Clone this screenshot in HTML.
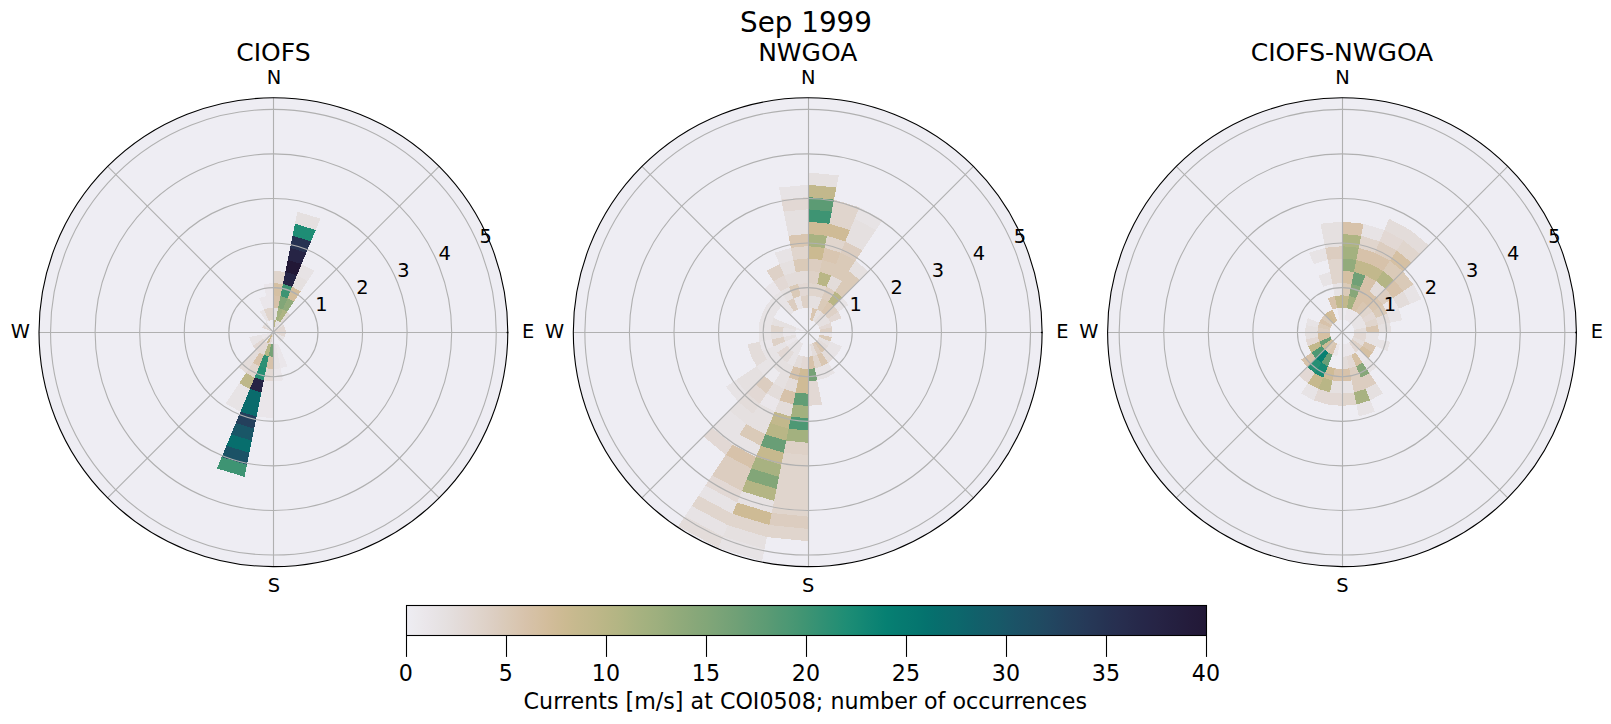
<!DOCTYPE html>
<html><head><meta charset="utf-8"><title>Sep 1999</title>
<style>
html,body{margin:0;padding:0;background:#fff;}
svg{display:block;}
text{font-family:"DejaVu Sans","Liberation Sans",sans-serif;fill:#000;}
.t1{font-size:19.4px;} .tt{font-size:25px;} .ts{font-size:27.8px;} .tc{font-size:22.2px;}
.g{stroke:#b0b0b0;stroke-width:1.1;fill:none;}
</style></head><body>
<svg width="1611" height="724" viewBox="0 0 1611 724">
<defs><linearGradient id="cb" x1="0" x2="1" y1="0" y2="0">
<stop offset="0.0000" stop-color="#eeedf3"/>
<stop offset="0.0125" stop-color="#eceaee"/>
<stop offset="0.0250" stop-color="#eae6ea"/>
<stop offset="0.0375" stop-color="#e7e3e5"/>
<stop offset="0.0500" stop-color="#e5e0e0"/>
<stop offset="0.0625" stop-color="#e3dcda"/>
<stop offset="0.0750" stop-color="#e2d8d4"/>
<stop offset="0.0875" stop-color="#e0d5cd"/>
<stop offset="0.1000" stop-color="#ded1c7"/>
<stop offset="0.1125" stop-color="#dccdc0"/>
<stop offset="0.1250" stop-color="#dacab8"/>
<stop offset="0.1375" stop-color="#d9c6b1"/>
<stop offset="0.1500" stop-color="#d7c2aa"/>
<stop offset="0.1625" stop-color="#d5c0a3"/>
<stop offset="0.1750" stop-color="#d3bd9c"/>
<stop offset="0.1875" stop-color="#cfbb96"/>
<stop offset="0.2000" stop-color="#cbba91"/>
<stop offset="0.2125" stop-color="#c6b98e"/>
<stop offset="0.2250" stop-color="#c2b88c"/>
<stop offset="0.2375" stop-color="#beb789"/>
<stop offset="0.2500" stop-color="#b9b686"/>
<stop offset="0.2625" stop-color="#b4b584"/>
<stop offset="0.2750" stop-color="#aeb482"/>
<stop offset="0.2875" stop-color="#a8b281"/>
<stop offset="0.3000" stop-color="#a3b17f"/>
<stop offset="0.3125" stop-color="#9eaf7e"/>
<stop offset="0.3250" stop-color="#98ad7c"/>
<stop offset="0.3375" stop-color="#92ab7b"/>
<stop offset="0.3500" stop-color="#8da97a"/>
<stop offset="0.3625" stop-color="#87a779"/>
<stop offset="0.3750" stop-color="#82a678"/>
<stop offset="0.3875" stop-color="#7ca478"/>
<stop offset="0.4000" stop-color="#76a277"/>
<stop offset="0.4125" stop-color="#70a076"/>
<stop offset="0.4250" stop-color="#699e76"/>
<stop offset="0.4375" stop-color="#629d75"/>
<stop offset="0.4500" stop-color="#5c9b74"/>
<stop offset="0.4625" stop-color="#549974"/>
<stop offset="0.4750" stop-color="#4d9874"/>
<stop offset="0.4875" stop-color="#469673"/>
<stop offset="0.5000" stop-color="#3e9473"/>
<stop offset="0.5125" stop-color="#369274"/>
<stop offset="0.5250" stop-color="#2e9074"/>
<stop offset="0.5375" stop-color="#268f74"/>
<stop offset="0.5500" stop-color="#1e8d75"/>
<stop offset="0.5625" stop-color="#188a74"/>
<stop offset="0.5750" stop-color="#128674"/>
<stop offset="0.5875" stop-color="#0c8373"/>
<stop offset="0.6000" stop-color="#068072"/>
<stop offset="0.6125" stop-color="#067c71"/>
<stop offset="0.6250" stop-color="#067970"/>
<stop offset="0.6375" stop-color="#05766f"/>
<stop offset="0.6500" stop-color="#05726e"/>
<stop offset="0.6625" stop-color="#076e6d"/>
<stop offset="0.6750" stop-color="#0a6b6c"/>
<stop offset="0.6875" stop-color="#0c686c"/>
<stop offset="0.7000" stop-color="#0e646b"/>
<stop offset="0.7125" stop-color="#11606a"/>
<stop offset="0.7250" stop-color="#145d69"/>
<stop offset="0.7375" stop-color="#165a68"/>
<stop offset="0.7500" stop-color="#195667"/>
<stop offset="0.7625" stop-color="#1b5266"/>
<stop offset="0.7750" stop-color="#1d4f64"/>
<stop offset="0.7875" stop-color="#1f4c62"/>
<stop offset="0.8000" stop-color="#214861"/>
<stop offset="0.8125" stop-color="#22445f"/>
<stop offset="0.8250" stop-color="#24405c"/>
<stop offset="0.8375" stop-color="#253d5a"/>
<stop offset="0.8500" stop-color="#263958"/>
<stop offset="0.8625" stop-color="#263655"/>
<stop offset="0.8750" stop-color="#263252"/>
<stop offset="0.8875" stop-color="#272f50"/>
<stop offset="0.9000" stop-color="#272c4d"/>
<stop offset="0.9125" stop-color="#26294a"/>
<stop offset="0.9250" stop-color="#262648"/>
<stop offset="0.9375" stop-color="#262445"/>
<stop offset="0.9500" stop-color="#252142"/>
<stop offset="0.9625" stop-color="#241f3f"/>
<stop offset="0.9750" stop-color="#241c3c"/>
<stop offset="0.9875" stop-color="#231a39"/>
<stop offset="1.0000" stop-color="#221836"/>
</linearGradient></defs>
<rect width="1611" height="724" fill="#fff"/>
<g>
<circle cx="273.4" cy="332.2" r="234.4" fill="#eeedf3"/>
<g shape-rendering="crispEdges">
<path d="M273.40,332.20 L273.40,319.91 L275.80,320.15 L273.40,332.20Z" fill="#b9b686"/>
<path d="M273.40,319.91 L273.40,307.62 L278.20,308.09 L275.80,320.15Z" fill="#e5e0e0"/>
<path d="M273.40,307.62 L273.40,295.33 L280.59,296.04 L278.20,308.09Z" fill="#d7c2aa"/>
<path d="M273.40,295.33 L273.40,283.04 L282.99,283.98 L280.59,296.04Z" fill="#d5c0a3"/>
<path d="M273.40,283.04 L273.40,270.75 L285.39,271.93 L282.99,283.98Z" fill="#e0d5cd"/>
<path d="M273.40,332.20 L275.80,320.15 L278.10,320.85 L273.40,332.20Z" fill="#e5e0e0"/>
<path d="M275.80,320.15 L278.20,308.09 L282.81,309.49 L278.10,320.85Z" fill="#a3b17f"/>
<path d="M278.20,308.09 L280.59,296.04 L287.51,298.14 L282.81,309.49Z" fill="#82a678"/>
<path d="M280.59,296.04 L282.99,283.98 L292.21,286.78 L287.51,298.14Z" fill="#3e9473"/>
<path d="M282.99,283.98 L285.39,271.93 L296.92,275.43 L292.21,286.78Z" fill="#262445"/>
<path d="M285.39,271.93 L287.79,259.88 L301.62,264.07 L296.92,275.43Z" fill="#221836"/>
<path d="M287.79,259.88 L290.18,247.82 L306.32,252.72 L301.62,264.07Z" fill="#262445"/>
<path d="M290.18,247.82 L292.58,235.77 L311.03,241.36 L306.32,252.72Z" fill="#263252"/>
<path d="M292.58,235.77 L294.98,223.72 L315.73,230.01 L311.03,241.36Z" fill="#1e8d75"/>
<path d="M294.98,223.72 L297.38,211.66 L320.43,218.66 L315.73,230.01Z" fill="#e5e0e0"/>
<path d="M273.40,332.20 L278.10,320.85 L280.23,321.98 L273.40,332.20Z" fill="#e5e0e0"/>
<path d="M278.10,320.85 L282.81,309.49 L287.06,311.76 L280.23,321.98Z" fill="#aeb482"/>
<path d="M282.81,309.49 L287.51,298.14 L293.88,301.54 L287.06,311.76Z" fill="#92ab7b"/>
<path d="M287.51,298.14 L292.21,286.78 L300.71,291.32 L293.88,301.54Z" fill="#d3bd9c"/>
<path d="M292.21,286.78 L296.92,275.43 L307.54,281.11 L300.71,291.32Z" fill="#e5e0e0"/>
<path d="M296.92,275.43 L301.62,264.07 L314.37,270.89 L307.54,281.11Z" fill="#e7e3e5"/>
<path d="M273.40,332.20 L280.23,321.98 L282.09,323.51 L273.40,332.20Z" fill="#eae6ea"/>
<path d="M280.23,321.98 L287.06,311.76 L290.78,314.82 L282.09,323.51Z" fill="#e3dcda"/>
<path d="M273.40,332.20 L282.09,323.51 L283.62,325.37 L273.40,332.20Z" fill="#e5e0e0"/>
<path d="M273.40,332.20 L283.62,325.37 L284.75,327.50 L273.40,332.20Z" fill="#e2d8d4"/>
<path d="M273.40,332.20 L284.75,327.50 L285.45,329.80 L273.40,332.20Z" fill="#e2d8d4"/>
<path d="M273.40,332.20 L285.45,329.80 L285.69,332.20 L273.40,332.20Z" fill="#e2d8d4"/>
<path d="M273.40,332.20 L285.69,332.20 L285.45,334.60 L273.40,332.20Z" fill="#e2d8d4"/>
<path d="M273.40,332.20 L285.45,334.60 L284.75,336.90 L273.40,332.20Z" fill="#e2d8d4"/>
<path d="M273.40,332.20 L284.75,336.90 L283.62,339.03 L273.40,332.20Z" fill="#e7e3e5"/>
<path d="M273.40,332.20 L283.62,339.03 L282.09,340.89 L273.40,332.20Z" fill="#e7e3e5"/>
<path d="M273.40,332.20 L282.09,340.89 L280.23,342.42 L273.40,332.20Z" fill="#e7e3e5"/>
<path d="M278.10,343.55 L282.81,354.91 L278.20,356.31 L275.80,344.25Z" fill="#eae6ea"/>
<path d="M282.81,354.91 L287.51,366.26 L280.59,368.36 L278.20,356.31Z" fill="#eae6ea"/>
<path d="M275.80,344.25 L278.20,356.31 L273.40,356.78 L273.40,344.49Z" fill="#e7e3e5"/>
<path d="M278.20,356.31 L280.59,368.36 L273.40,369.07 L273.40,356.78Z" fill="#e7e3e5"/>
<path d="M280.59,368.36 L282.99,380.42 L273.40,381.36 L273.40,369.07Z" fill="#eae6ea"/>
<path d="M273.40,332.20 L273.40,344.49 L271.00,344.25 L273.40,332.20Z" fill="#eae6ea"/>
<path d="M273.40,344.49 L273.40,356.78 L268.60,356.31 L271.00,344.25Z" fill="#76a277"/>
<path d="M273.40,356.78 L273.40,369.07 L266.21,368.36 L268.60,356.31Z" fill="#d7c2aa"/>
<path d="M273.40,369.07 L273.40,381.36 L263.81,380.42 L266.21,368.36Z" fill="#e2d8d4"/>
<path d="M273.40,381.36 L273.40,393.65 L261.41,392.47 L263.81,380.42Z" fill="#eae6ea"/>
<path d="M273.40,393.65 L273.40,405.94 L259.01,404.52 L261.41,392.47Z" fill="#eae6ea"/>
<path d="M273.40,405.94 L273.40,418.23 L256.62,416.58 L259.01,404.52Z" fill="#eae6ea"/>
<path d="M273.40,332.20 L271.00,344.25 L268.70,343.55 L273.40,332.20Z" fill="#e2d8d4"/>
<path d="M271.00,344.25 L268.60,356.31 L263.99,354.91 L268.70,343.55Z" fill="#b4b584"/>
<path d="M268.60,356.31 L266.21,368.36 L259.29,366.26 L263.99,354.91Z" fill="#2e9074"/>
<path d="M266.21,368.36 L263.81,380.42 L254.59,377.62 L259.29,366.26Z" fill="#268f74"/>
<path d="M263.81,380.42 L261.41,392.47 L249.88,388.97 L254.59,377.62Z" fill="#262445"/>
<path d="M261.41,392.47 L259.01,404.52 L245.18,400.33 L249.88,388.97Z" fill="#0a6b6c"/>
<path d="M259.01,404.52 L256.62,416.58 L240.48,411.68 L245.18,400.33Z" fill="#0a6b6c"/>
<path d="M256.62,416.58 L254.22,428.63 L235.77,423.04 L240.48,411.68Z" fill="#24405c"/>
<path d="M254.22,428.63 L251.82,440.68 L231.07,434.39 L235.77,423.04Z" fill="#195667"/>
<path d="M251.82,440.68 L249.42,452.74 L226.37,445.74 L231.07,434.39Z" fill="#076e6d"/>
<path d="M249.42,452.74 L247.03,464.79 L221.67,457.10 L226.37,445.74Z" fill="#1b5266"/>
<path d="M247.03,464.79 L244.63,476.85 L216.96,468.45 L221.67,457.10Z" fill="#3e9473"/>
<path d="M273.40,332.20 L268.70,343.55 L266.57,342.42 L273.40,332.20Z" fill="#cbba91"/>
<path d="M268.70,343.55 L263.99,354.91 L259.74,352.64 L266.57,342.42Z" fill="#e2d8d4"/>
<path d="M263.99,354.91 L259.29,366.26 L252.92,362.86 L259.74,352.64Z" fill="#d7c2aa"/>
<path d="M259.29,366.26 L254.59,377.62 L246.09,373.08 L252.92,362.86Z" fill="#e0d5cd"/>
<path d="M254.59,377.62 L249.88,388.97 L239.26,383.29 L246.09,373.08Z" fill="#beb789"/>
<path d="M249.88,388.97 L245.18,400.33 L232.43,393.51 L239.26,383.29Z" fill="#e7e3e5"/>
<path d="M245.18,400.33 L240.48,411.68 L225.60,403.73 L232.43,393.51Z" fill="#e7e3e5"/>
<path d="M273.40,332.20 L266.57,342.42 L264.71,340.89 L273.40,332.20Z" fill="#eae6ea"/>
<path d="M266.57,342.42 L259.74,352.64 L256.02,349.58 L264.71,340.89Z" fill="#e2d8d4"/>
<path d="M259.74,352.64 L252.92,362.86 L247.33,358.27 L256.02,349.58Z" fill="#e3dcda"/>
<path d="M252.92,362.86 L246.09,373.08 L238.64,366.96 L247.33,358.27Z" fill="#e3dcda"/>
<path d="M273.40,332.20 L264.71,340.89 L263.18,339.03 L273.40,332.20Z" fill="#e5e0e0"/>
<path d="M264.71,340.89 L256.02,349.58 L252.96,345.86 L263.18,339.03Z" fill="#e2d8d4"/>
<path d="M273.40,332.20 L263.18,339.03 L262.05,336.90 L273.40,332.20Z" fill="#eae6ea"/>
<path d="M263.18,339.03 L252.96,345.86 L250.69,341.61 L262.05,336.90Z" fill="#e7e3e5"/>
<path d="M273.40,332.20 L262.05,336.90 L261.35,334.60 L273.40,332.20Z" fill="#eae6ea"/>
<path d="M262.05,336.90 L250.69,341.61 L249.29,337.00 L261.35,334.60Z" fill="#e7e3e5"/>
<path d="M273.40,332.20 L262.05,327.50 L263.18,325.37 L273.40,332.20Z" fill="#e2d8d4"/>
<path d="M273.40,332.20 L263.18,325.37 L264.71,323.51 L273.40,332.20Z" fill="#e5e0e0"/>
<path d="M273.40,332.20 L264.71,323.51 L266.57,321.98 L273.40,332.20Z" fill="#e5e0e0"/>
<path d="M266.57,321.98 L259.74,311.76 L263.99,309.49 L268.70,320.85Z" fill="#e7e3e5"/>
<path d="M268.70,320.85 L263.99,309.49 L268.60,308.09 L271.00,320.15Z" fill="#e0d5cd"/>
<path d="M263.99,309.49 L259.29,298.14 L266.21,296.04 L268.60,308.09Z" fill="#eae6ea"/>
<path d="M271.00,320.15 L268.60,308.09 L273.40,307.62 L273.40,319.91Z" fill="#e0d5cd"/>
<path d="M268.60,308.09 L266.21,296.04 L273.40,295.33 L273.40,307.62Z" fill="#eae6ea"/>
<path d="M266.21,296.04 L263.81,283.98 L273.40,283.04 L273.40,295.33Z" fill="#eae6ea"/>
</g>
<line class="g" x1="273.5" y1="97.80" x2="273.5" y2="566.60"/>
<line class="g" x1="39.00" y1="332.5" x2="507.80" y2="332.5"/>
<line class="g" x1="273.4" y1="332.2" x2="439.15" y2="166.45"/>
<line class="g" x1="273.4" y1="332.2" x2="439.15" y2="497.95"/>
<line class="g" x1="273.4" y1="332.2" x2="107.65" y2="497.95"/>
<line class="g" x1="273.4" y1="332.2" x2="107.65" y2="166.45"/>
<circle class="g" cx="273.4" cy="332.2" r="44.57"/>
<circle class="g" cx="273.4" cy="332.2" r="89.14"/>
<circle class="g" cx="273.4" cy="332.2" r="133.71"/>
<circle class="g" cx="273.4" cy="332.2" r="178.28"/>
<circle class="g" cx="273.4" cy="332.2" r="222.85"/>
<circle cx="273.4" cy="332.2" r="234.4" fill="none" stroke="#000" stroke-width="1.1"/>
<line x1="506.6" y1="332.5" x2="508.4" y2="332.5" stroke="#000" stroke-width="1.3"/>
<text class="t1" x="321.3" y="311" text-anchor="middle">1</text>
<text class="t1" x="362.4" y="294" text-anchor="middle">2</text>
<text class="t1" x="403.5" y="277" text-anchor="middle">3</text>
<text class="t1" x="444.6" y="260" text-anchor="middle">4</text>
<text class="t1" x="485.7" y="243" text-anchor="middle">5</text>
<text class="t1" x="273.9" y="84.2" text-anchor="middle">N</text>
<text class="t1" x="273.9" y="592" text-anchor="middle">S</text>
<text class="t1" x="528.2" y="338.1" text-anchor="middle">E</text>
<text class="t1" x="20.3" y="338.1" text-anchor="middle">W</text>
<text class="tt" x="273.4" y="61" text-anchor="middle">CIOFS</text>
</g>
<g>
<circle cx="807.7" cy="332.2" r="234.4" fill="#eeedf3"/>
<g shape-rendering="crispEdges">
<path d="M807.70,319.91 L807.70,307.62 L812.50,308.09 L810.10,320.15Z" fill="#eae6ea"/>
<path d="M807.70,307.62 L807.70,295.33 L814.89,296.04 L812.50,308.09Z" fill="#e5e0e0"/>
<path d="M807.70,295.33 L807.70,283.04 L817.29,283.98 L814.89,296.04Z" fill="#e0d5cd"/>
<path d="M807.70,283.04 L807.70,270.75 L819.69,271.93 L817.29,283.98Z" fill="#ded1c7"/>
<path d="M807.70,270.75 L807.70,258.46 L822.09,259.88 L819.69,271.93Z" fill="#dccdc0"/>
<path d="M807.70,258.46 L807.70,246.17 L824.48,247.82 L822.09,259.88Z" fill="#cbba91"/>
<path d="M807.70,246.17 L807.70,233.88 L826.88,235.77 L824.48,247.82Z" fill="#a8b281"/>
<path d="M807.70,233.88 L807.70,221.59 L829.28,223.72 L826.88,235.77Z" fill="#cfbb96"/>
<path d="M807.70,221.59 L807.70,209.30 L831.68,211.66 L829.28,223.72Z" fill="#3e9473"/>
<path d="M807.70,209.30 L807.70,197.01 L834.07,199.61 L831.68,211.66Z" fill="#5c9b74"/>
<path d="M807.70,197.01 L807.70,184.72 L836.47,187.55 L834.07,199.61Z" fill="#c2b88c"/>
<path d="M807.70,184.72 L807.70,172.43 L838.87,175.50 L836.47,187.55Z" fill="#e5e0e0"/>
<path d="M810.10,320.15 L812.50,308.09 L817.11,309.49 L812.40,320.85Z" fill="#d9c6b1"/>
<path d="M812.50,308.09 L814.89,296.04 L821.81,298.14 L817.11,309.49Z" fill="#e5e0e0"/>
<path d="M814.89,296.04 L817.29,283.98 L826.51,286.78 L821.81,298.14Z" fill="#e0d5cd"/>
<path d="M817.29,283.98 L819.69,271.93 L831.22,275.43 L826.51,286.78Z" fill="#b9b686"/>
<path d="M819.69,271.93 L822.09,259.88 L835.92,264.07 L831.22,275.43Z" fill="#dacab8"/>
<path d="M822.09,259.88 L824.48,247.82 L840.62,252.72 L835.92,264.07Z" fill="#d9c6b1"/>
<path d="M824.48,247.82 L826.88,235.77 L845.33,241.36 L840.62,252.72Z" fill="#e0d5cd"/>
<path d="M826.88,235.77 L829.28,223.72 L850.03,230.01 L845.33,241.36Z" fill="#cfbb96"/>
<path d="M829.28,223.72 L831.68,211.66 L854.73,218.66 L850.03,230.01Z" fill="#e0d5cd"/>
<path d="M831.68,211.66 L834.07,199.61 L859.43,207.30 L854.73,218.66Z" fill="#e0d5cd"/>
<path d="M812.40,320.85 L817.11,309.49 L821.36,311.76 L814.53,321.98Z" fill="#e5e0e0"/>
<path d="M817.11,309.49 L821.81,298.14 L828.18,301.54 L821.36,311.76Z" fill="#dacab8"/>
<path d="M821.81,298.14 L826.51,286.78 L835.01,291.32 L828.18,301.54Z" fill="#dccdc0"/>
<path d="M826.51,286.78 L831.22,275.43 L841.84,281.11 L835.01,291.32Z" fill="#e3dcda"/>
<path d="M831.22,275.43 L835.92,264.07 L848.67,270.89 L841.84,281.11Z" fill="#dacab8"/>
<path d="M835.92,264.07 L840.62,252.72 L855.50,260.67 L848.67,270.89Z" fill="#dacab8"/>
<path d="M840.62,252.72 L845.33,241.36 L862.32,250.45 L855.50,260.67Z" fill="#dccdc0"/>
<path d="M845.33,241.36 L850.03,230.01 L869.15,240.23 L862.32,250.45Z" fill="#e5e0e0"/>
<path d="M850.03,230.01 L854.73,218.66 L875.98,230.01 L869.15,240.23Z" fill="#e5e0e0"/>
<path d="M854.73,218.66 L859.43,207.30 L882.81,219.79 L875.98,230.01Z" fill="#e7e3e5"/>
<path d="M814.53,321.98 L821.36,311.76 L825.08,314.82 L816.39,323.51Z" fill="#e3dcda"/>
<path d="M821.36,311.76 L828.18,301.54 L833.77,306.13 L825.08,314.82Z" fill="#d9c6b1"/>
<path d="M828.18,301.54 L835.01,291.32 L842.46,297.44 L833.77,306.13Z" fill="#b9b686"/>
<path d="M835.01,291.32 L841.84,281.11 L851.15,288.75 L842.46,297.44Z" fill="#dacab8"/>
<path d="M841.84,281.11 L848.67,270.89 L859.84,280.06 L851.15,288.75Z" fill="#dacab8"/>
<path d="M848.67,270.89 L855.50,260.67 L868.53,271.37 L859.84,280.06Z" fill="#e5e0e0"/>
<path d="M816.39,323.51 L825.08,314.82 L828.14,318.54 L817.92,325.37Z" fill="#e5e0e0"/>
<path d="M825.08,314.82 L833.77,306.13 L838.36,311.72 L828.14,318.54Z" fill="#ded1c7"/>
<path d="M833.77,306.13 L842.46,297.44 L848.58,304.89 L838.36,311.72Z" fill="#e7e3e5"/>
<path d="M817.92,325.37 L828.14,318.54 L830.41,322.79 L819.05,327.50Z" fill="#e5e0e0"/>
<path d="M828.14,318.54 L838.36,311.72 L841.76,318.09 L830.41,322.79Z" fill="#e2d8d4"/>
<path d="M819.05,327.50 L830.41,322.79 L831.81,327.40 L819.75,329.80Z" fill="#e2d8d4"/>
<path d="M819.75,329.80 L831.81,327.40 L832.28,332.20 L819.99,332.20Z" fill="#ded1c7"/>
<path d="M819.99,332.20 L832.28,332.20 L831.81,337.00 L819.75,334.60Z" fill="#eae6ea"/>
<path d="M819.75,334.60 L831.81,337.00 L830.41,341.61 L819.05,336.90Z" fill="#dacab8"/>
<path d="M819.05,336.90 L830.41,341.61 L828.14,345.86 L817.92,339.03Z" fill="#e5e0e0"/>
<path d="M830.41,341.61 L841.76,346.31 L838.36,352.68 L828.14,345.86Z" fill="#e7e3e5"/>
<path d="M817.92,339.03 L828.14,345.86 L825.08,349.58 L816.39,340.89Z" fill="#e3dcda"/>
<path d="M828.14,345.86 L838.36,352.68 L833.77,358.27 L825.08,349.58Z" fill="#e7e3e5"/>
<path d="M816.39,340.89 L825.08,349.58 L821.36,352.64 L814.53,342.42Z" fill="#d9c6b1"/>
<path d="M825.08,349.58 L833.77,358.27 L828.18,362.86 L821.36,352.64Z" fill="#e3dcda"/>
<path d="M814.53,342.42 L821.36,352.64 L817.11,354.91 L812.40,343.55Z" fill="#dccdc0"/>
<path d="M821.36,352.64 L828.18,362.86 L821.81,366.26 L817.11,354.91Z" fill="#d9c6b1"/>
<path d="M828.18,362.86 L835.01,373.08 L826.51,377.62 L821.81,366.26Z" fill="#e7e3e5"/>
<path d="M812.40,343.55 L817.11,354.91 L812.50,356.31 L810.10,344.25Z" fill="#e3dcda"/>
<path d="M817.11,354.91 L821.81,366.26 L814.89,368.36 L812.50,356.31Z" fill="#e0d5cd"/>
<path d="M821.81,366.26 L826.51,377.62 L817.29,380.42 L814.89,368.36Z" fill="#e7e3e5"/>
<path d="M810.10,344.25 L812.50,356.31 L807.70,356.78 L807.70,344.49Z" fill="#e7e3e5"/>
<path d="M812.50,356.31 L814.89,368.36 L807.70,369.07 L807.70,356.78Z" fill="#d7c2aa"/>
<path d="M814.89,368.36 L817.29,380.42 L807.70,381.36 L807.70,369.07Z" fill="#76a277"/>
<path d="M817.29,380.42 L819.69,392.47 L807.70,393.65 L807.70,381.36Z" fill="#e2d8d4"/>
<path d="M819.69,392.47 L822.09,404.52 L807.70,405.94 L807.70,393.65Z" fill="#e2d8d4"/>
<path d="M807.70,356.78 L807.70,369.07 L800.51,368.36 L802.90,356.31Z" fill="#e2d8d4"/>
<path d="M807.70,369.07 L807.70,381.36 L798.11,380.42 L800.51,368.36Z" fill="#cfbb96"/>
<path d="M807.70,381.36 L807.70,393.65 L795.71,392.47 L798.11,380.42Z" fill="#cfbb96"/>
<path d="M807.70,393.65 L807.70,405.94 L793.31,404.52 L795.71,392.47Z" fill="#629d75"/>
<path d="M807.70,405.94 L807.70,418.23 L790.92,416.58 L793.31,404.52Z" fill="#a3b17f"/>
<path d="M807.70,418.23 L807.70,430.52 L788.52,428.63 L790.92,416.58Z" fill="#4d9874"/>
<path d="M807.70,430.52 L807.70,442.81 L786.12,440.68 L788.52,428.63Z" fill="#a3b17f"/>
<path d="M807.70,442.81 L807.70,455.10 L783.72,452.74 L786.12,440.68Z" fill="#ded1c7"/>
<path d="M807.70,455.10 L807.70,467.39 L781.33,464.79 L783.72,452.74Z" fill="#e0d5cd"/>
<path d="M807.70,467.39 L807.70,479.68 L778.93,476.85 L781.33,464.79Z" fill="#e0d5cd"/>
<path d="M807.70,479.68 L807.70,491.97 L776.53,488.90 L778.93,476.85Z" fill="#e0d5cd"/>
<path d="M807.70,491.97 L807.70,504.26 L774.13,500.95 L776.53,488.90Z" fill="#e0d5cd"/>
<path d="M807.70,504.26 L807.70,516.55 L771.74,513.01 L774.13,500.95Z" fill="#e0d5cd"/>
<path d="M807.70,516.55 L807.70,528.84 L769.34,525.06 L771.74,513.01Z" fill="#dccdc0"/>
<path d="M807.70,528.84 L807.70,541.13 L766.94,537.12 L769.34,525.06Z" fill="#e0d5cd"/>
<path d="M802.90,356.31 L800.51,368.36 L793.59,366.26 L798.29,354.91Z" fill="#e3dcda"/>
<path d="M800.51,368.36 L798.11,380.42 L788.89,377.62 L793.59,366.26Z" fill="#d7c2aa"/>
<path d="M798.11,380.42 L795.71,392.47 L784.18,388.97 L788.89,377.62Z" fill="#e3dcda"/>
<path d="M795.71,392.47 L793.31,404.52 L779.48,400.33 L784.18,388.97Z" fill="#d7c2aa"/>
<path d="M793.31,404.52 L790.92,416.58 L774.78,411.68 L779.48,400.33Z" fill="#e3dcda"/>
<path d="M790.92,416.58 L788.52,428.63 L770.07,423.04 L774.78,411.68Z" fill="#c2b88c"/>
<path d="M788.52,428.63 L786.12,440.68 L765.37,434.39 L770.07,423.04Z" fill="#b9b686"/>
<path d="M786.12,440.68 L783.72,452.74 L760.67,445.74 L765.37,434.39Z" fill="#699e76"/>
<path d="M783.72,452.74 L781.33,464.79 L755.97,457.10 L760.67,445.74Z" fill="#c6b98e"/>
<path d="M781.33,464.79 L778.93,476.85 L751.26,468.45 L755.97,457.10Z" fill="#a8b281"/>
<path d="M778.93,476.85 L776.53,488.90 L746.56,479.81 L751.26,468.45Z" fill="#82a678"/>
<path d="M776.53,488.90 L774.13,500.95 L741.86,491.16 L746.56,479.81Z" fill="#b4b584"/>
<path d="M774.13,500.95 L771.74,513.01 L737.15,502.52 L741.86,491.16Z" fill="#e6e1e2"/>
<path d="M771.74,513.01 L769.34,525.06 L732.45,513.87 L737.15,502.52Z" fill="#cebb95"/>
<path d="M769.34,525.06 L766.94,537.12 L727.75,525.23 L732.45,513.87Z" fill="#e0d5cd"/>
<path d="M766.94,537.12 L764.54,549.17 L723.04,536.58 L727.75,525.23Z" fill="#e5e0e0"/>
<path d="M764.54,549.17 L762.14,561.22 L718.34,547.94 L723.04,536.58Z" fill="#e7e3e5"/>
<path d="M803.00,343.55 L798.29,354.91 L794.04,352.64 L800.87,342.42Z" fill="#e7e3e5"/>
<path d="M798.29,354.91 L793.59,366.26 L787.22,362.86 L794.04,352.64Z" fill="#e7e3e5"/>
<path d="M793.59,366.26 L788.89,377.62 L780.39,373.08 L787.22,362.86Z" fill="#e5e0e0"/>
<path d="M788.89,377.62 L784.18,388.97 L773.56,383.29 L780.39,373.08Z" fill="#e5e0e0"/>
<path d="M784.18,388.97 L779.48,400.33 L766.73,393.51 L773.56,383.29Z" fill="#e3dcda"/>
<path d="M779.48,400.33 L774.78,411.68 L759.90,403.73 L766.73,393.51Z" fill="#eae6ea"/>
<path d="M774.78,411.68 L770.07,423.04 L753.08,413.95 L759.90,403.73Z" fill="#e5e0e0"/>
<path d="M770.07,423.04 L765.37,434.39 L746.25,424.17 L753.08,413.95Z" fill="#e5e0e0"/>
<path d="M765.37,434.39 L760.67,445.74 L739.42,434.39 L746.25,424.17Z" fill="#dacab8"/>
<path d="M760.67,445.74 L755.97,457.10 L732.59,444.61 L739.42,434.39Z" fill="#e7e3e5"/>
<path d="M755.97,457.10 L751.26,468.45 L725.76,454.83 L732.59,444.61Z" fill="#d7c2aa"/>
<path d="M751.26,468.45 L746.56,479.81 L718.94,465.04 L725.76,454.83Z" fill="#dccdc0"/>
<path d="M746.56,479.81 L741.86,491.16 L712.11,475.26 L718.94,465.04Z" fill="#dccdc0"/>
<path d="M741.86,491.16 L737.15,502.52 L705.28,485.48 L712.11,475.26Z" fill="#e2d8d4"/>
<path d="M737.15,502.52 L732.45,513.87 L698.45,495.70 L705.28,485.48Z" fill="#e7e3e5"/>
<path d="M732.45,513.87 L727.75,525.23 L691.62,505.92 L698.45,495.70Z" fill="#e0d5cd"/>
<path d="M727.75,525.23 L723.04,536.58 L684.80,516.14 L691.62,505.92Z" fill="#e7e3e5"/>
<path d="M723.04,536.58 L718.34,547.94 L677.97,526.36 L684.80,516.14Z" fill="#e3dcda"/>
<path d="M800.87,342.42 L794.04,352.64 L790.32,349.58 L799.01,340.89Z" fill="#e7e3e5"/>
<path d="M794.04,352.64 L787.22,362.86 L781.63,358.27 L790.32,349.58Z" fill="#e3dcda"/>
<path d="M787.22,362.86 L780.39,373.08 L772.94,366.96 L781.63,358.27Z" fill="#e5e0e0"/>
<path d="M780.39,373.08 L773.56,383.29 L764.25,375.65 L772.94,366.96Z" fill="#eceaee"/>
<path d="M773.56,383.29 L766.73,393.51 L755.56,384.34 L764.25,375.65Z" fill="#dccdc0"/>
<path d="M766.73,393.51 L759.90,403.73 L746.87,393.03 L755.56,384.34Z" fill="#e2d8d4"/>
<path d="M759.90,403.73 L753.08,413.95 L738.18,401.72 L746.87,393.03Z" fill="#e3dcda"/>
<path d="M753.08,413.95 L746.25,424.17 L729.49,410.41 L738.18,401.72Z" fill="#e5e0e0"/>
<path d="M746.25,424.17 L739.42,434.39 L720.80,419.10 L729.49,410.41Z" fill="#e7e3e5"/>
<path d="M739.42,434.39 L732.59,444.61 L712.11,427.79 L720.80,419.10Z" fill="#e7e3e5"/>
<path d="M732.59,444.61 L725.76,454.83 L703.42,436.48 L712.11,427.79Z" fill="#e2d8d4"/>
<path d="M799.01,340.89 L790.32,349.58 L787.26,345.86 L797.48,339.03Z" fill="#e7e3e5"/>
<path d="M790.32,349.58 L781.63,358.27 L777.04,352.68 L787.26,345.86Z" fill="#e2d8d4"/>
<path d="M781.63,358.27 L772.94,366.96 L766.82,359.51 L777.04,352.68Z" fill="#e7e3e5"/>
<path d="M772.94,366.96 L764.25,375.65 L756.61,366.34 L766.82,359.51Z" fill="#e7e3e5"/>
<path d="M764.25,375.65 L755.56,384.34 L746.39,373.17 L756.61,366.34Z" fill="#e5e0e0"/>
<path d="M755.56,384.34 L746.87,393.03 L736.17,380.00 L746.39,373.17Z" fill="#e5e0e0"/>
<path d="M746.87,393.03 L738.18,401.72 L725.95,386.82 L736.17,380.00Z" fill="#e7e3e5"/>
<path d="M797.48,339.03 L787.26,345.86 L784.99,341.61 L796.35,336.90Z" fill="#eae6ea"/>
<path d="M787.26,345.86 L777.04,352.68 L773.64,346.31 L784.99,341.61Z" fill="#e7e3e5"/>
<path d="M777.04,352.68 L766.82,359.51 L762.28,351.01 L773.64,346.31Z" fill="#e7e3e5"/>
<path d="M766.82,359.51 L756.61,366.34 L750.93,355.72 L762.28,351.01Z" fill="#e3dcda"/>
<path d="M796.35,336.90 L784.99,341.61 L783.59,337.00 L795.65,334.60Z" fill="#e5e0e0"/>
<path d="M784.99,341.61 L773.64,346.31 L771.54,339.39 L783.59,337.00Z" fill="#ded1c7"/>
<path d="M773.64,346.31 L762.28,351.01 L759.48,341.79 L771.54,339.39Z" fill="#eae6ea"/>
<path d="M762.28,351.01 L750.93,355.72 L747.43,344.19 L759.48,341.79Z" fill="#e3dcda"/>
<path d="M795.65,334.60 L783.59,337.00 L783.12,332.20 L795.41,332.20Z" fill="#eae6ea"/>
<path d="M783.59,337.00 L771.54,339.39 L770.83,332.20 L783.12,332.20Z" fill="#e5e0e0"/>
<path d="M771.54,339.39 L759.48,341.79 L758.54,332.20 L770.83,332.20Z" fill="#e7e3e5"/>
<path d="M795.41,332.20 L783.12,332.20 L783.59,327.40 L795.65,329.80Z" fill="#e7e3e5"/>
<path d="M783.12,332.20 L770.83,332.20 L771.54,325.01 L783.59,327.40Z" fill="#e0d5cd"/>
<path d="M770.83,332.20 L758.54,332.20 L759.48,322.61 L771.54,325.01Z" fill="#e7e3e5"/>
<path d="M807.70,332.20 L795.65,329.80 L796.35,327.50 L807.70,332.20Z" fill="#eae6ea"/>
<path d="M795.65,329.80 L783.59,327.40 L784.99,322.79 L796.35,327.50Z" fill="#e5e0e0"/>
<path d="M783.59,327.40 L771.54,325.01 L773.64,318.09 L784.99,322.79Z" fill="#e5e0e0"/>
<path d="M771.54,325.01 L759.48,322.61 L762.28,313.39 L773.64,318.09Z" fill="#e7e3e5"/>
<path d="M773.64,318.09 L762.28,313.39 L766.82,304.89 L777.04,311.72Z" fill="#e7e3e5"/>
<path d="M777.04,311.72 L766.82,304.89 L772.94,297.44 L781.63,306.13Z" fill="#e7e3e5"/>
<path d="M790.32,314.82 L781.63,306.13 L787.22,301.54 L794.04,311.76Z" fill="#e7e3e5"/>
<path d="M781.63,306.13 L772.94,297.44 L780.39,291.32 L787.22,301.54Z" fill="#e7e3e5"/>
<path d="M772.94,297.44 L764.25,288.75 L773.56,281.11 L780.39,291.32Z" fill="#eae6ea"/>
<path d="M794.04,311.76 L787.22,301.54 L793.59,298.14 L798.29,309.49Z" fill="#dccdc0"/>
<path d="M787.22,301.54 L780.39,291.32 L788.89,286.78 L793.59,298.14Z" fill="#e5e0e0"/>
<path d="M780.39,291.32 L773.56,281.11 L784.18,275.43 L788.89,286.78Z" fill="#e2d8d4"/>
<path d="M773.56,281.11 L766.73,270.89 L779.48,264.07 L784.18,275.43Z" fill="#ded1c7"/>
<path d="M798.29,309.49 L793.59,298.14 L800.51,296.04 L802.90,308.09Z" fill="#e7e3e5"/>
<path d="M793.59,298.14 L788.89,286.78 L798.11,283.98 L800.51,296.04Z" fill="#dacab8"/>
<path d="M788.89,286.78 L784.18,275.43 L795.71,271.93 L798.11,283.98Z" fill="#e3dcda"/>
<path d="M784.18,275.43 L779.48,264.07 L793.31,259.88 L795.71,271.93Z" fill="#e5e0e0"/>
<path d="M779.48,264.07 L774.78,252.72 L790.92,247.82 L793.31,259.88Z" fill="#e7e3e5"/>
<path d="M802.90,308.09 L800.51,296.04 L807.70,295.33 L807.70,307.62Z" fill="#ded1c7"/>
<path d="M800.51,296.04 L798.11,283.98 L807.70,283.04 L807.70,295.33Z" fill="#e2d8d4"/>
<path d="M798.11,283.98 L795.71,271.93 L807.70,270.75 L807.70,283.04Z" fill="#e3dcda"/>
<path d="M795.71,271.93 L793.31,259.88 L807.70,258.46 L807.70,270.75Z" fill="#dacab8"/>
<path d="M793.31,259.88 L790.92,247.82 L807.70,246.17 L807.70,258.46Z" fill="#e0d5cd"/>
<path d="M790.92,247.82 L788.52,235.77 L807.70,233.88 L807.70,246.17Z" fill="#d9c6b1"/>
<path d="M788.52,235.77 L786.12,223.72 L807.70,221.59 L807.70,233.88Z" fill="#e5e0e0"/>
<path d="M786.12,223.72 L783.72,211.66 L807.70,209.30 L807.70,221.59Z" fill="#e5e0e0"/>
<path d="M783.72,211.66 L781.33,199.61 L807.70,197.01 L807.70,209.30Z" fill="#e2d8d4"/>
<path d="M781.33,199.61 L778.93,187.55 L807.70,184.72 L807.70,197.01Z" fill="#e7e3e5"/>
</g>
<line class="g" x1="808.5" y1="97.80" x2="808.5" y2="566.60"/>
<line class="g" x1="573.30" y1="332.5" x2="1042.10" y2="332.5"/>
<line class="g" x1="807.7" y1="332.2" x2="973.45" y2="166.45"/>
<line class="g" x1="807.7" y1="332.2" x2="973.45" y2="497.95"/>
<line class="g" x1="807.7" y1="332.2" x2="641.95" y2="497.95"/>
<line class="g" x1="807.7" y1="332.2" x2="641.95" y2="166.45"/>
<circle class="g" cx="807.7" cy="332.2" r="44.57"/>
<circle class="g" cx="807.7" cy="332.2" r="89.14"/>
<circle class="g" cx="807.7" cy="332.2" r="133.71"/>
<circle class="g" cx="807.7" cy="332.2" r="178.28"/>
<circle class="g" cx="807.7" cy="332.2" r="222.85"/>
<circle cx="807.7" cy="332.2" r="234.4" fill="none" stroke="#000" stroke-width="1.1"/>
<line x1="1040.9" y1="332.5" x2="1042.7" y2="332.5" stroke="#000" stroke-width="1.3"/>
<text class="t1" x="855.6" y="311" text-anchor="middle">1</text>
<text class="t1" x="896.7" y="294" text-anchor="middle">2</text>
<text class="t1" x="937.8" y="277" text-anchor="middle">3</text>
<text class="t1" x="978.9" y="260" text-anchor="middle">4</text>
<text class="t1" x="1020.0" y="243" text-anchor="middle">5</text>
<text class="t1" x="808.2" y="84.2" text-anchor="middle">N</text>
<text class="t1" x="808.2" y="592" text-anchor="middle">S</text>
<text class="t1" x="1062.5" y="338.1" text-anchor="middle">E</text>
<text class="t1" x="554.6" y="338.1" text-anchor="middle">W</text>
<text class="tt" x="807.7" y="61" text-anchor="middle">NWGOA</text>
</g>
<g>
<circle cx="1342.0" cy="332.2" r="234.4" fill="#eeedf3"/>
<g shape-rendering="crispEdges">
<path d="M1342.00,319.91 L1342.00,307.62 L1346.80,308.09 L1344.40,320.15Z" fill="#eceaee"/>
<path d="M1342.00,307.62 L1342.00,295.33 L1349.19,296.04 L1346.80,308.09Z" fill="#c2b88c"/>
<path d="M1342.00,295.33 L1342.00,283.04 L1351.59,283.98 L1349.19,296.04Z" fill="#dacab8"/>
<path d="M1342.00,283.04 L1342.00,270.75 L1353.99,271.93 L1351.59,283.98Z" fill="#d5c0a3"/>
<path d="M1342.00,270.75 L1342.00,258.46 L1356.39,259.88 L1353.99,271.93Z" fill="#92ab7b"/>
<path d="M1342.00,258.46 L1342.00,246.17 L1358.78,247.82 L1356.39,259.88Z" fill="#a3b17f"/>
<path d="M1342.00,246.17 L1342.00,233.88 L1361.18,235.77 L1358.78,247.82Z" fill="#aeb482"/>
<path d="M1342.00,233.88 L1342.00,221.59 L1363.58,223.72 L1361.18,235.77Z" fill="#d7c2aa"/>
<path d="M1344.40,320.15 L1346.80,308.09 L1351.41,309.49 L1346.70,320.85Z" fill="#eae6ea"/>
<path d="M1346.80,308.09 L1349.19,296.04 L1356.11,298.14 L1351.41,309.49Z" fill="#a3b17f"/>
<path d="M1349.19,296.04 L1351.59,283.98 L1360.81,286.78 L1356.11,298.14Z" fill="#87a779"/>
<path d="M1351.59,283.98 L1353.99,271.93 L1365.52,275.43 L1360.81,286.78Z" fill="#70a076"/>
<path d="M1353.99,271.93 L1356.39,259.88 L1370.22,264.07 L1365.52,275.43Z" fill="#c2b88c"/>
<path d="M1356.39,259.88 L1358.78,247.82 L1374.92,252.72 L1370.22,264.07Z" fill="#d7c2aa"/>
<path d="M1358.78,247.82 L1361.18,235.77 L1379.63,241.36 L1374.92,252.72Z" fill="#e0d5cd"/>
<path d="M1361.18,235.77 L1363.58,223.72 L1384.33,230.01 L1379.63,241.36Z" fill="#e7e3e5"/>
<path d="M1346.70,320.85 L1351.41,309.49 L1355.66,311.76 L1348.83,321.98Z" fill="#eae6ea"/>
<path d="M1351.41,309.49 L1356.11,298.14 L1362.48,301.54 L1355.66,311.76Z" fill="#d7c2aa"/>
<path d="M1356.11,298.14 L1360.81,286.78 L1369.31,291.32 L1362.48,301.54Z" fill="#d7c2aa"/>
<path d="M1360.81,286.78 L1365.52,275.43 L1376.14,281.11 L1369.31,291.32Z" fill="#d7c2aa"/>
<path d="M1365.52,275.43 L1370.22,264.07 L1382.97,270.89 L1376.14,281.11Z" fill="#c2b88c"/>
<path d="M1370.22,264.07 L1374.92,252.72 L1389.80,260.67 L1382.97,270.89Z" fill="#d7c2aa"/>
<path d="M1374.92,252.72 L1379.63,241.36 L1396.62,250.45 L1389.80,260.67Z" fill="#dccdc0"/>
<path d="M1379.63,241.36 L1384.33,230.01 L1403.45,240.23 L1396.62,250.45Z" fill="#e2d8d4"/>
<path d="M1384.33,230.01 L1389.03,218.66 L1410.28,230.01 L1403.45,240.23Z" fill="#e3dcda"/>
<path d="M1348.83,321.98 L1355.66,311.76 L1359.38,314.82 L1350.69,323.51Z" fill="#eae6ea"/>
<path d="M1355.66,311.76 L1362.48,301.54 L1368.07,306.13 L1359.38,314.82Z" fill="#d9c6b1"/>
<path d="M1362.48,301.54 L1369.31,291.32 L1376.76,297.44 L1368.07,306.13Z" fill="#d7c2aa"/>
<path d="M1369.31,291.32 L1376.14,281.11 L1385.45,288.75 L1376.76,297.44Z" fill="#e3dcda"/>
<path d="M1376.14,281.11 L1382.97,270.89 L1394.14,280.06 L1385.45,288.75Z" fill="#b4b584"/>
<path d="M1382.97,270.89 L1389.80,260.67 L1402.83,271.37 L1394.14,280.06Z" fill="#dacab8"/>
<path d="M1389.80,260.67 L1396.62,250.45 L1411.52,262.68 L1402.83,271.37Z" fill="#d5c0a3"/>
<path d="M1396.62,250.45 L1403.45,240.23 L1420.21,253.99 L1411.52,262.68Z" fill="#e0d5cd"/>
<path d="M1403.45,240.23 L1410.28,230.01 L1428.90,245.30 L1420.21,253.99Z" fill="#e3dcda"/>
<path d="M1350.69,323.51 L1359.38,314.82 L1362.44,318.54 L1352.22,325.37Z" fill="#e7e3e5"/>
<path d="M1359.38,314.82 L1368.07,306.13 L1372.66,311.72 L1362.44,318.54Z" fill="#e0d5cd"/>
<path d="M1368.07,306.13 L1376.76,297.44 L1382.88,304.89 L1372.66,311.72Z" fill="#d9c6b1"/>
<path d="M1376.76,297.44 L1385.45,288.75 L1393.09,298.06 L1382.88,304.89Z" fill="#dccdc0"/>
<path d="M1385.45,288.75 L1394.14,280.06 L1403.31,291.23 L1393.09,298.06Z" fill="#d7c2aa"/>
<path d="M1394.14,280.06 L1402.83,271.37 L1413.53,284.40 L1403.31,291.23Z" fill="#dacab8"/>
<path d="M1352.22,325.37 L1362.44,318.54 L1364.71,322.79 L1353.35,327.50Z" fill="#e7e3e5"/>
<path d="M1362.44,318.54 L1372.66,311.72 L1376.06,318.09 L1364.71,322.79Z" fill="#e2d8d4"/>
<path d="M1372.66,311.72 L1382.88,304.89 L1387.42,313.39 L1376.06,318.09Z" fill="#dacab8"/>
<path d="M1382.88,304.89 L1393.09,298.06 L1398.77,308.68 L1387.42,313.39Z" fill="#eae6ea"/>
<path d="M1393.09,298.06 L1403.31,291.23 L1410.13,303.98 L1398.77,308.68Z" fill="#e3dcda"/>
<path d="M1403.31,291.23 L1413.53,284.40 L1421.48,299.28 L1410.13,303.98Z" fill="#e7e3e5"/>
<path d="M1353.35,327.50 L1364.71,322.79 L1366.11,327.40 L1354.05,329.80Z" fill="#e7e3e5"/>
<path d="M1364.71,322.79 L1376.06,318.09 L1378.16,325.01 L1366.11,327.40Z" fill="#e0d5cd"/>
<path d="M1376.06,318.09 L1387.42,313.39 L1390.22,322.61 L1378.16,325.01Z" fill="#e3dcda"/>
<path d="M1387.42,313.39 L1398.77,308.68 L1402.27,320.21 L1390.22,322.61Z" fill="#e7e3e5"/>
<path d="M1354.05,329.80 L1366.11,327.40 L1366.58,332.20 L1354.29,332.20Z" fill="#e3dcda"/>
<path d="M1366.11,327.40 L1378.16,325.01 L1378.87,332.20 L1366.58,332.20Z" fill="#d9c6b1"/>
<path d="M1378.16,325.01 L1390.22,322.61 L1391.16,332.20 L1378.87,332.20Z" fill="#e5e0e0"/>
<path d="M1354.29,332.20 L1366.58,332.20 L1366.11,337.00 L1354.05,334.60Z" fill="#e2d8d4"/>
<path d="M1366.58,332.20 L1378.87,332.20 L1378.16,339.39 L1366.11,337.00Z" fill="#e7e3e5"/>
<path d="M1354.05,334.60 L1366.11,337.00 L1364.71,341.61 L1353.35,336.90Z" fill="#e2d8d4"/>
<path d="M1366.11,337.00 L1378.16,339.39 L1376.06,346.31 L1364.71,341.61Z" fill="#e7e3e5"/>
<path d="M1378.16,339.39 L1390.22,341.79 L1387.42,351.01 L1376.06,346.31Z" fill="#e7e3e5"/>
<path d="M1353.35,336.90 L1364.71,341.61 L1362.44,345.86 L1352.22,339.03Z" fill="#e3dcda"/>
<path d="M1364.71,341.61 L1376.06,346.31 L1372.66,352.68 L1362.44,345.86Z" fill="#d9c6b1"/>
<path d="M1352.22,339.03 L1362.44,345.86 L1359.38,349.58 L1350.69,340.89Z" fill="#ded1c7"/>
<path d="M1362.44,345.86 L1372.66,352.68 L1368.07,358.27 L1359.38,349.58Z" fill="#d5c0a3"/>
<path d="M1350.69,340.89 L1359.38,349.58 L1355.66,352.64 L1348.83,342.42Z" fill="#e2d8d4"/>
<path d="M1359.38,349.58 L1368.07,358.27 L1362.48,362.86 L1355.66,352.64Z" fill="#eae6ea"/>
<path d="M1368.07,358.27 L1376.76,366.96 L1369.31,373.08 L1362.48,362.86Z" fill="#e7e3e5"/>
<path d="M1348.83,342.42 L1355.66,352.64 L1351.41,354.91 L1346.70,343.55Z" fill="#eae6ea"/>
<path d="M1355.66,352.64 L1362.48,362.86 L1356.11,366.26 L1351.41,354.91Z" fill="#d5c0a3"/>
<path d="M1362.48,362.86 L1369.31,373.08 L1360.81,377.62 L1356.11,366.26Z" fill="#87a779"/>
<path d="M1369.31,373.08 L1376.14,383.29 L1365.52,388.97 L1360.81,377.62Z" fill="#dccdc0"/>
<path d="M1376.14,383.29 L1382.97,393.51 L1370.22,400.33 L1365.52,388.97Z" fill="#e5e0e0"/>
<path d="M1346.70,343.55 L1351.41,354.91 L1346.80,356.31 L1344.40,344.25Z" fill="#eae6ea"/>
<path d="M1351.41,354.91 L1356.11,366.26 L1349.19,368.36 L1346.80,356.31Z" fill="#e2d8d4"/>
<path d="M1356.11,366.26 L1360.81,377.62 L1351.59,380.42 L1349.19,368.36Z" fill="#dccdc0"/>
<path d="M1360.81,377.62 L1365.52,388.97 L1353.99,392.47 L1351.59,380.42Z" fill="#dccdc0"/>
<path d="M1365.52,388.97 L1370.22,400.33 L1356.39,404.52 L1353.99,392.47Z" fill="#a8b281"/>
<path d="M1370.22,400.33 L1374.92,411.68 L1358.78,416.58 L1356.39,404.52Z" fill="#e7e3e5"/>
<path d="M1344.40,344.25 L1346.80,356.31 L1342.00,356.78 L1342.00,344.49Z" fill="#eae6ea"/>
<path d="M1346.80,356.31 L1349.19,368.36 L1342.00,369.07 L1342.00,356.78Z" fill="#e3dcda"/>
<path d="M1349.19,368.36 L1351.59,380.42 L1342.00,381.36 L1342.00,369.07Z" fill="#d7c2aa"/>
<path d="M1351.59,380.42 L1353.99,392.47 L1342.00,393.65 L1342.00,381.36Z" fill="#e7e3e5"/>
<path d="M1353.99,392.47 L1356.39,404.52 L1342.00,405.94 L1342.00,393.65Z" fill="#e0d5cd"/>
<path d="M1342.00,369.07 L1342.00,381.36 L1332.41,380.42 L1334.81,368.36Z" fill="#d7c2aa"/>
<path d="M1342.00,381.36 L1342.00,393.65 L1330.01,392.47 L1332.41,380.42Z" fill="#e5e0e0"/>
<path d="M1342.00,393.65 L1342.00,405.94 L1327.61,404.52 L1330.01,392.47Z" fill="#e2d8d4"/>
<path d="M1339.60,344.25 L1337.20,356.31 L1332.59,354.91 L1337.30,343.55Z" fill="#eae6ea"/>
<path d="M1334.81,368.36 L1332.41,380.42 L1323.19,377.62 L1327.89,366.26Z" fill="#cfbb96"/>
<path d="M1332.41,380.42 L1330.01,392.47 L1318.48,388.97 L1323.19,377.62Z" fill="#b9b686"/>
<path d="M1330.01,392.47 L1327.61,404.52 L1313.78,400.33 L1318.48,388.97Z" fill="#e2d8d4"/>
<path d="M1337.30,343.55 L1332.59,354.91 L1328.34,352.64 L1335.17,342.42Z" fill="#d9c6b1"/>
<path d="M1332.59,354.91 L1327.89,366.26 L1321.52,362.86 L1328.34,352.64Z" fill="#699e76"/>
<path d="M1327.89,366.26 L1323.19,377.62 L1314.69,373.08 L1321.52,362.86Z" fill="#188a74"/>
<path d="M1323.19,377.62 L1318.48,388.97 L1307.86,383.29 L1314.69,373.08Z" fill="#c6b98e"/>
<path d="M1318.48,388.97 L1313.78,400.33 L1301.03,393.51 L1307.86,383.29Z" fill="#e7e3e5"/>
<path d="M1335.17,342.42 L1328.34,352.64 L1324.62,349.58 L1333.31,340.89Z" fill="#dacab8"/>
<path d="M1328.34,352.64 L1321.52,362.86 L1315.93,358.27 L1324.62,349.58Z" fill="#068072"/>
<path d="M1321.52,362.86 L1314.69,373.08 L1307.24,366.96 L1315.93,358.27Z" fill="#268f74"/>
<path d="M1314.69,373.08 L1307.86,383.29 L1298.55,375.65 L1307.24,366.96Z" fill="#e2d8d4"/>
<path d="M1333.31,340.89 L1324.62,349.58 L1321.56,345.86 L1331.78,339.03Z" fill="#cfbb96"/>
<path d="M1324.62,349.58 L1315.93,358.27 L1311.34,352.68 L1321.56,345.86Z" fill="#4d9874"/>
<path d="M1315.93,358.27 L1307.24,366.96 L1301.12,359.51 L1311.34,352.68Z" fill="#d7c2aa"/>
<path d="M1331.78,339.03 L1321.56,345.86 L1319.29,341.61 L1330.65,336.90Z" fill="#699e76"/>
<path d="M1321.56,345.86 L1311.34,352.68 L1307.94,346.31 L1319.29,341.61Z" fill="#c2b88c"/>
<path d="M1330.65,336.90 L1319.29,341.61 L1317.89,337.00 L1329.95,334.60Z" fill="#d5c0a3"/>
<path d="M1319.29,341.61 L1307.94,346.31 L1305.84,339.39 L1317.89,337.00Z" fill="#e2d8d4"/>
<path d="M1329.95,334.60 L1317.89,337.00 L1317.42,332.20 L1329.71,332.20Z" fill="#d5c0a3"/>
<path d="M1317.89,337.00 L1305.84,339.39 L1305.13,332.20 L1317.42,332.20Z" fill="#e5e0e0"/>
<path d="M1329.71,332.20 L1317.42,332.20 L1317.89,327.40 L1329.95,329.80Z" fill="#dccdc0"/>
<path d="M1317.42,332.20 L1305.13,332.20 L1305.84,325.01 L1317.89,327.40Z" fill="#e5e0e0"/>
<path d="M1329.95,329.80 L1317.89,327.40 L1319.29,322.79 L1330.65,327.50Z" fill="#dacab8"/>
<path d="M1317.89,327.40 L1305.84,325.01 L1307.94,318.09 L1319.29,322.79Z" fill="#e7e3e5"/>
<path d="M1330.65,327.50 L1319.29,322.79 L1321.56,318.54 L1331.78,325.37Z" fill="#d7c2aa"/>
<path d="M1331.78,325.37 L1321.56,318.54 L1324.62,314.82 L1333.31,323.51Z" fill="#dacab8"/>
<path d="M1333.31,323.51 L1324.62,314.82 L1328.34,311.76 L1335.17,321.98Z" fill="#cfbb96"/>
<path d="M1335.17,321.98 L1328.34,311.76 L1332.59,309.49 L1337.30,320.85Z" fill="#d3bd9c"/>
<path d="M1332.59,309.49 L1327.89,298.14 L1334.81,296.04 L1337.20,308.09Z" fill="#d7c2aa"/>
<path d="M1323.19,286.78 L1318.48,275.43 L1330.01,271.93 L1332.41,283.98Z" fill="#e7e3e5"/>
<path d="M1313.78,264.07 L1309.08,252.72 L1325.22,247.82 L1327.61,259.88Z" fill="#e7e3e5"/>
<path d="M1339.60,320.15 L1337.20,308.09 L1342.00,307.62 L1342.00,319.91Z" fill="#eae6ea"/>
<path d="M1337.20,308.09 L1334.81,296.04 L1342.00,295.33 L1342.00,307.62Z" fill="#c2b88c"/>
<path d="M1334.81,296.04 L1332.41,283.98 L1342.00,283.04 L1342.00,295.33Z" fill="#e7e3e5"/>
<path d="M1332.41,283.98 L1330.01,271.93 L1342.00,270.75 L1342.00,283.04Z" fill="#e0d5cd"/>
<path d="M1330.01,271.93 L1327.61,259.88 L1342.00,258.46 L1342.00,270.75Z" fill="#e0d5cd"/>
<path d="M1327.61,259.88 L1325.22,247.82 L1342.00,246.17 L1342.00,258.46Z" fill="#dccdc0"/>
<path d="M1325.22,247.82 L1322.82,235.77 L1342.00,233.88 L1342.00,246.17Z" fill="#e5e0e0"/>
<path d="M1322.82,235.77 L1320.42,223.72 L1342.00,221.59 L1342.00,233.88Z" fill="#e5e0e0"/>
</g>
<line class="g" x1="1342.5" y1="97.80" x2="1342.5" y2="566.60"/>
<line class="g" x1="1107.60" y1="332.5" x2="1576.40" y2="332.5"/>
<line class="g" x1="1342.0" y1="332.2" x2="1507.75" y2="166.45"/>
<line class="g" x1="1342.0" y1="332.2" x2="1507.75" y2="497.95"/>
<line class="g" x1="1342.0" y1="332.2" x2="1176.25" y2="497.95"/>
<line class="g" x1="1342.0" y1="332.2" x2="1176.25" y2="166.45"/>
<circle class="g" cx="1342.0" cy="332.2" r="44.57"/>
<circle class="g" cx="1342.0" cy="332.2" r="89.14"/>
<circle class="g" cx="1342.0" cy="332.2" r="133.71"/>
<circle class="g" cx="1342.0" cy="332.2" r="178.28"/>
<circle class="g" cx="1342.0" cy="332.2" r="222.85"/>
<circle cx="1342.0" cy="332.2" r="234.4" fill="none" stroke="#000" stroke-width="1.1"/>
<line x1="1575.2" y1="332.5" x2="1577.0" y2="332.5" stroke="#000" stroke-width="1.3"/>
<text class="t1" x="1389.9" y="311" text-anchor="middle">1</text>
<text class="t1" x="1431.0" y="294" text-anchor="middle">2</text>
<text class="t1" x="1472.1" y="277" text-anchor="middle">3</text>
<text class="t1" x="1513.2" y="260" text-anchor="middle">4</text>
<text class="t1" x="1554.3" y="243" text-anchor="middle">5</text>
<text class="t1" x="1342.5" y="84.2" text-anchor="middle">N</text>
<text class="t1" x="1342.5" y="592" text-anchor="middle">S</text>
<text class="t1" x="1596.8" y="338.1" text-anchor="middle">E</text>
<text class="t1" x="1088.9" y="338.1" text-anchor="middle">W</text>
<text class="tt" x="1342.0" y="61" text-anchor="middle">CIOFS-NWGOA</text>
</g>
<text class="ts" x="806" y="32" text-anchor="middle">Sep 1999</text>
<rect x="406.5" y="605.5" width="800.0" height="30.0" fill="url(#cb)" stroke="#000" stroke-width="1.1"/>
<line x1="406.50" y1="635.5" x2="406.50" y2="656.9" stroke="#000" stroke-width="1.1"/>
<text class="tc" x="405.90" y="681" text-anchor="middle">0</text>
<line x1="506.50" y1="635.5" x2="506.50" y2="656.9" stroke="#000" stroke-width="1.1"/>
<text class="tc" x="505.90" y="681" text-anchor="middle">5</text>
<line x1="606.50" y1="635.5" x2="606.50" y2="656.9" stroke="#000" stroke-width="1.1"/>
<text class="tc" x="605.90" y="681" text-anchor="middle">10</text>
<line x1="706.50" y1="635.5" x2="706.50" y2="656.9" stroke="#000" stroke-width="1.1"/>
<text class="tc" x="705.90" y="681" text-anchor="middle">15</text>
<line x1="806.50" y1="635.5" x2="806.50" y2="656.9" stroke="#000" stroke-width="1.1"/>
<text class="tc" x="805.90" y="681" text-anchor="middle">20</text>
<line x1="906.50" y1="635.5" x2="906.50" y2="656.9" stroke="#000" stroke-width="1.1"/>
<text class="tc" x="905.90" y="681" text-anchor="middle">25</text>
<line x1="1006.50" y1="635.5" x2="1006.50" y2="656.9" stroke="#000" stroke-width="1.1"/>
<text class="tc" x="1005.90" y="681" text-anchor="middle">30</text>
<line x1="1106.50" y1="635.5" x2="1106.50" y2="656.9" stroke="#000" stroke-width="1.1"/>
<text class="tc" x="1105.90" y="681" text-anchor="middle">35</text>
<line x1="1206.50" y1="635.5" x2="1206.50" y2="656.9" stroke="#000" stroke-width="1.1"/>
<text class="tc" x="1205.90" y="681" text-anchor="middle">40</text>
<text class="tc" x="805.3" y="709.4" text-anchor="middle">Currents [m/s] at COI0508; number of occurrences</text>
</svg></body></html>
